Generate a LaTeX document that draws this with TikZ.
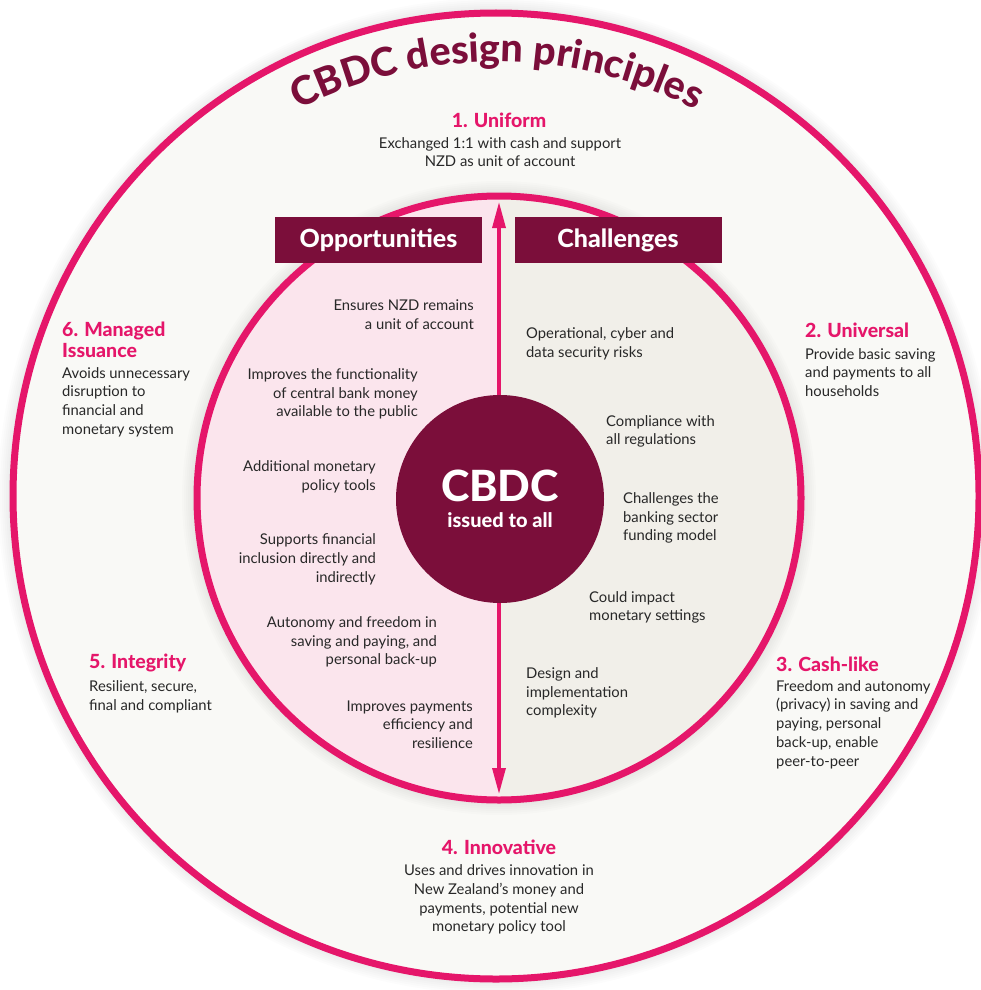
\documentclass[tikz,border=0pt]{standalone}
\usepackage{fontspec}
\setmainfont{Lato}
\IfFontExistsTF{Lato Heavy}{\newfontfamily\heavyfont{Lato Heavy}}{\newcommand\heavyfont{\bfseries}}
\usetikzlibrary{arrows.meta,decorations.text}
\definecolor{ringpink}{RGB}{229,22,106}
\definecolor{maroon}{RGB}{123,14,58}
\definecolor{oppfill}{RGB}{251,229,237}
\definecolor{chalfill}{RGB}{241,239,233}
\definecolor{outerfill}{RGB}{249,249,246}
\definecolor{bodytext}{RGB}{40,40,40}
\begin{document}
\begin{tikzpicture}[x=1pt, y=1pt,
	body/.style={font=\fontsize{14.8}{18.7}\selectfont, text=bodytext, inner sep=0pt},
	bodyr/.style={body, align=right, anchor=east},
	bodyl/.style={body, align=left, anchor=west},
	bodyc/.style={body, align=center},
	head/.style={font=\fontsize{19.5}{21}\selectfont\heavyfont, text=ringpink, inner sep=0pt},
	tab/.style={fill=maroon, text=white, minimum width=207pt, minimum height=46pt, font=\fontsize{25}{25}\selectfont\heavyfont},
	ptip/.tip={Triangle[length=26pt, width=13pt]}]
		\useasboundingbox (0,0) rectangle (981,-990);
		\fill[white] (0,0) rectangle (981,-990);
		% rings, with a soft shadow
		\foreach \w in {4,8,...,24}
			\draw[black, opacity=0.012, line width=\w pt] (496,-496) circle[radius=486];
		\draw[line width=7pt, ringpink, fill=outerfill] (496,-496) circle[radius=483];
		\coordinate (c) at (499,-498);
		\foreach \w in {4,8,...,24}
			\draw[black, opacity=0.012, line width=\w pt] (c) circle[radius=305];
		\fill[oppfill] (c) ++(90:302) arc[start angle=90, end angle=270, radius=302] -- cycle;
		\fill[chalfill] (c) ++(-90:302) arc[start angle=-90, end angle=90, radius=302] -- cycle;
		\draw[line width=7pt, ringpink] (c) circle[radius=302];
		\coordinate (atop) at (499,-202);
		\coordinate (abot) at (499,-794);
		\draw[line width=3.3pt, ringpink, ptip-ptip] (atop) -- (abot);
		\path[decorate, decoration={text along path, text align=center, text color=maroon,
			text={|\fontsize{39.5}{39.5}\selectfont\heavyfont|CBDC design principles}}]
			(497,-497) ++(150:435) arc[start angle=150, end angle=30, radius=435];
		% centre
		\node[circle, fill=maroon, minimum size=208pt, inner sep=0pt] (cbdc) at (500,-499) {};
		\node[text=white, font=\fontsize{43}{43}\selectfont\heavyfont] (cbdct) at (500,-486) {CBDC};
		\node[text=white, font=\fontsize{20}{20}\selectfont\heavyfont] (issued) at (500,-520) {issued to all};
		\node[tab] (opp) at (378.5,-240) {Opportunities};
		\node[tab] (chal) at (618,-240) {Challenges};
		% principles
		\node[head] (u1) at (499,-120) {1. Uniform};
		\node[bodyc] (u1b) at (500,-152) {Exchanged 1:1 with cash and support\\NZD as unit of account};
		\node[head, anchor=west] (u2) at (805,-330) {2. Universal};
		\node[bodyl] (u2b) at (805,-372.5) {Provide basic saving\\and payments to all\\households};
		\node[head, anchor=west] (u3) at (776,-664) {3. Cash-like};
		\node[bodyl] (u3b) at (776,-724.5) {Freedom and autonomy\\(privacy) in saving and\\paying, personal\\back-up, enable\\peer-to-peer};
		\node[head] (u4) at (499,-847) {4. Innovative};
		\node[bodyc] (u4b) at (499,-899.5) {Uses and drives innovation in\\New Zealand’s money and\\payments, potential new\\monetary policy tool};
		\node[head, anchor=west] (u5) at (89,-663) {5. Integrity};
		\node[bodyl] (u5b) at (89,-696.5) {Resilient, secure,\\final and compliant};
		\node[head, anchor=west, align=left] (u6) at (62,-339.5) {6. Managed\\Issuance};
		\node[bodyl] (u6b) at (62,-402) {Avoids unnecessary\\disruption to\\financial and\\monetary system};
		% opportunities
		\node[bodyr] (o1) at (474,-315) {Ensures NZD remains\\a unit of account};
		\node[bodyr] (o2) at (418,-394) {Improves the functionality\\of central bank money\\available to the public};
		\node[bodyr] (o3) at (376,-477) {Additional monetary\\policy tools};
		\node[bodyr] (o4) at (376,-559.5) {Supports financial\\inclusion directly and\\indirectly};
		\node[bodyr] (o5) at (437,-642) {Autonomy and freedom in\\saving and paying, and\\personal back-up};
		\node[bodyr] (o6) at (473,-724.5) {Improves payments\\efficiency and\\resilience};
		% challenges
		\node[bodyl] (c1) at (526,-343.5) {Operational, cyber and\\data security risks};
		\node[bodyl] (c2) at (606,-431.5) {Compliance with\\all regulations};
		\node[bodyl] (c3) at (623,-518) {Challenges the\\banking sector\\funding model};
		\node[bodyl] (c4) at (589,-607.5) {Could impact\\monetary settings};
		\node[bodyl] (c5) at (526,-693) {Design and\\implementation\\complexity};
\end{tikzpicture}
\end{document}
